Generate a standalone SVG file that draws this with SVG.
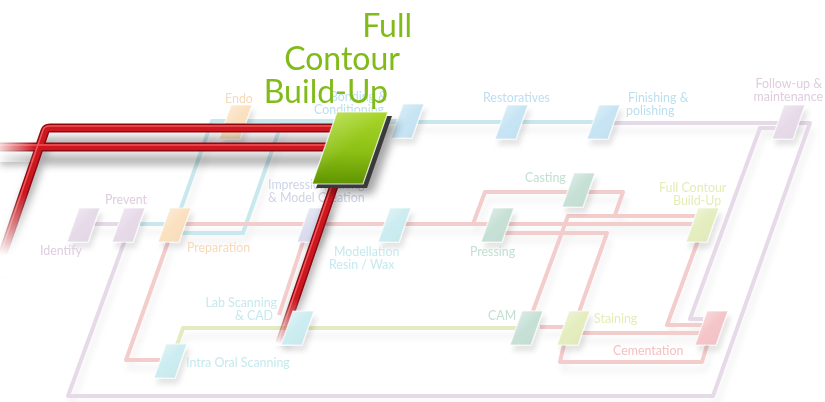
<svg xmlns="http://www.w3.org/2000/svg" width="825" height="402" viewBox="0 0 825 402">
<defs>
<style>
text{font-family:Lato,"Noto Sans","DejaVu Sans",sans-serif}
.lb{font-size:12.4px}
.t-pu{fill:#e0cde0}.t-or{fill:#f7d9b8}.t-bl{fill:#bcdff0}.t-lv{fill:#cfd3e8}.t-tq{fill:#c4e9ee}.t-gr{fill:#c2e0d2}.t-yg{fill:#e3edb6}.t-pk{fill:#f5c0c0}
.pu{fill:#e6dae9}.or{fill:#fae0be}.bl{fill:#c6e4f4}.lv{fill:#d9dcee}.tq{fill:#cbecf0}.gr{fill:#c6e0d6}.yg{fill:#e3edbd}.pk{fill:#f4c4c8}
.st{stroke:#ffffff;stroke-opacity:.7;stroke-width:1.2}
.ln{fill:none;stroke-width:4;stroke-linejoin:round}
.l-pu{stroke:#e6dae8}.l-bl{stroke:#c9e8ed}.l-pk{stroke:#f3cccc}.l-gn{stroke:#e2ebc2}
.title{font-size:32px;fill:#80bb1a;text-anchor:end}
.rd{fill:none;stroke-linecap:butt;stroke-linejoin:round}
</style>
<path id="st" d="M12,0 H33 L21,34 H0 Z"/>
<linearGradient id="sheen" x1="0" y1="0" x2="1" y2="1">
<stop offset="0" stop-color="#fff" stop-opacity=".55"/>
<stop offset=".5" stop-color="#fff" stop-opacity="0"/>
<stop offset="1" stop-color="#000" stop-opacity=".06"/>
</linearGradient>
<filter id="sh" x="-30%" y="-30%" width="180%" height="180%">
<feDropShadow dx="3" dy="6" stdDeviation="2.5" flood-color="#000" flood-opacity=".1"/>
</filter>
<filter id="lsh" x="-10%" y="-10%" width="120%" height="130%">
<feDropShadow dx="3" dy="8" stdDeviation="3" flood-color="#000" flood-opacity=".06"/>
</filter>
<filter id="blur" x="-20%" y="-20%" width="140%" height="140%">
<feGaussianBlur stdDeviation="4"/>
</filter>
<linearGradient id="fadeL" x1="0" y1="0" x2="1" y2="0">
<stop offset="0" stop-color="#333"/><stop offset="1" stop-color="#fff"/>
</linearGradient>
<linearGradient id="fadeD" x1="0" y1="0" x2="0" y2="1">
<stop offset="0" stop-color="#fff"/><stop offset="1" stop-color="#000"/>
</linearGradient>
<linearGradient id="fadeD2" x1="0" y1="0" x2="0" y2="1">
<stop offset="0" stop-color="#fff"/><stop offset=".75" stop-color="#000"/><stop offset="1" stop-color="#000"/>
</linearGradient>
<mask id="fade" maskUnits="userSpaceOnUse" x="0" y="0" width="825" height="402">
<rect width="825" height="402" fill="#fff"/>
<rect x="0" y="134" width="36" height="28" fill="url(#fadeL)"/>
<rect x="0" y="192" width="60" height="85" fill="url(#fadeD2)"/>
<rect x="255" y="298" width="80" height="48" fill="url(#fadeD)"/>
</mask>
<linearGradient id="gbox" x1="0" y1="0" x2="0" y2="1">
<stop offset="0" stop-color="#a9d62a"/><stop offset=".55" stop-color="#8cc014"/><stop offset="1" stop-color="#5f9400"/>
</linearGradient>
</defs>
<rect width="825" height="402" fill="#fff"/>

<g id="connectors" filter="url(#lsh)">
<path class="ln l-pu" d="M83,224 H128"/>
<path class="ln l-pu" d="M605,123 H810 L713,396 H68 L125,240"/>
<path class="ln l-pu" d="M785,128 H760 L690,319 H703"/>
<path class="ln l-bl" d="M140,224 H170"/>
<path class="ln l-bl" d="M175,225 L212,121 H405"/>
<path class="ln l-bl" d="M180,233 H243 L282,122 H405"/>
<path class="ln l-bl" d="M405,122 H600"/>
<path class="ln l-pk" d="M175,224 H700"/>
<path class="ln l-pk" d="M473,224 L485,192 H623 L615,215"/>
<path class="ln l-pk" d="M533,311 L568,216 H700"/>
<path class="ln l-pk" d="M505,233 H607 L578,315"/>
<path class="ln l-pk" d="M540,327 H565"/>
<path class="ln l-pk" d="M575,333 H705"/>
<path class="ln l-pk" d="M565,340 L560,362 H702 L708,342"/>
<path class="ln l-pk" d="M700,235 L667,325 H705"/>
<path class="ln l-pk" d="M168,242 L126,360 H160"/>
<path class="ln l-pk" d="M303,242 L279,315"/>
<path class="ln l-gn" d="M176,348 L183,328 H520"/>
</g>

<g filter="url(#sh)">
<g id="n-identify"><use href="#st" x="67" y="208" class="pu st"/><use href="#st" x="67" y="208" fill="url(#sheen)"/></g>
<g id="n-prevent"><use href="#st" x="112" y="208" class="pu st"/><use href="#st" x="112" y="208" fill="url(#sheen)"/></g>
<g id="n-preparation"><use href="#st" x="158" y="208" class="or st"/><use href="#st" x="158" y="208" fill="url(#sheen)"/></g>
<g id="n-endo"><use href="#st" x="219" y="105" class="or st"/><use href="#st" x="219" y="105" fill="url(#sheen)"/></g>
<g id="n-bonding"><use href="#st" x="391" y="104" class="bl st"/><use href="#st" x="391" y="104" fill="url(#sheen)"/></g>
<g id="n-restoratives"><use href="#st" x="495" y="105" class="bl st"/><use href="#st" x="495" y="105" fill="url(#sheen)"/></g>
<g id="n-finishing"><use href="#st" x="587" y="105" class="bl st"/><use href="#st" x="587" y="105" fill="url(#sheen)"/></g>
<g id="n-followup"><use href="#st" x="772" y="105" class="pu st"/><use href="#st" x="772" y="105" fill="url(#sheen)"/></g>
<g id="n-impression"><use href="#st" x="297" y="208" class="lv st"/><use href="#st" x="297" y="208" fill="url(#sheen)"/></g>
<g id="n-modellation"><use href="#st" x="378" y="208" class="tq st"/><use href="#st" x="378" y="208" fill="url(#sheen)"/></g>
<g id="n-pressing"><use href="#st" x="481" y="208" class="gr st"/><use href="#st" x="481" y="208" fill="url(#sheen)"/></g>
<g id="n-casting"><use href="#st" x="562" y="173" class="gr st"/><use href="#st" x="562" y="173" fill="url(#sheen)"/></g>
<g id="n-fullcontour"><use href="#st" x="686" y="208" class="yg st"/><use href="#st" x="686" y="208" fill="url(#sheen)"/></g>
<g id="n-cam"><use href="#st" x="510" y="311" class="gr st"/><use href="#st" x="510" y="311" fill="url(#sheen)"/></g>
<g id="n-staining"><use href="#st" x="557" y="311" class="yg st"/><use href="#st" x="557" y="311" fill="url(#sheen)"/></g>
<g id="n-cementation"><use href="#st" x="695" y="311" class="pk st"/><use href="#st" x="695" y="311" fill="url(#sheen)"/></g>
<g id="n-intraoral"><use href="#st" x="154" y="344" class="tq st"/><use href="#st" x="154" y="344" fill="url(#sheen)"/></g>
</g>

<g id="labels" class="lb">
<text x="40" y="255" class="t-pu">Identify</text>
<text x="105" y="204" class="t-pu">Prevent</text>
<text x="187" y="252" class="t-or">Preparation</text>
<text x="225" y="103" class="t-or">Endo</text>
<text x="387" y="101" class="t-bl" text-anchor="end">Bonding &amp;</text>
<text x="384" y="114" class="t-bl" text-anchor="end">Conditioning</text>
<text x="483" y="102" class="t-bl">Restoratives</text>
<text x="628" y="102" class="t-bl">Finishing &amp;</text>
<text x="626" y="115" class="t-bl">polishing</text>
<text x="822" y="88" class="t-pu" text-anchor="end">Follow-up &amp;</text>
<text x="823" y="101" class="t-pu" text-anchor="end">maintenance</text>
<text x="268" y="189" class="t-lv">Impression Taking</text>
<text x="268" y="202" class="t-lv">&amp; Model Creation</text>
<text x="334" y="256" class="t-tq">Modellation</text>
<text x="329" y="269" class="t-tq">Resin / Wax</text>
<text x="470" y="256" class="t-gr">Pressing</text>
<text x="525" y="182" class="t-gr">Casting</text>
<text x="659" y="192" class="t-yg">Full Contour</text>
<text x="673" y="205" class="t-yg">Build-Up</text>
<text x="488" y="320" class="t-gr">CAM</text>
<text x="594" y="323" class="t-yg">Staining</text>
<text x="613" y="355" class="t-pk">Cementation</text>
<text x="186" y="367" class="t-tq">Intra Oral Scanning</text>
</g>

<g id="route-shadow" filter="url(#blur)" opacity=".35" mask="url(#fade)">
<path d="M0,160 H330 M0,270 L46,142 H340 M335,195 L283,345" fill="none" stroke="#000" stroke-width="9"/>
</g>
<g id="route" mask="url(#fade)">
<path class="rd" d="M0,147 H332 M0,262 L45,131 Q46,128 50,128 H342 M336,180 L280,343" stroke="#8f0810" stroke-width="9"/>
<path class="rd" d="M0,147 H332 M0,262 L45,131 Q46,128 50,128 H342 M336,180 L280,343" stroke="#cc1620" stroke-width="6"/>
<path class="rd" d="M0,145 H332 M-2,261 L43,130 Q44,126 50,126 H342 M334,179 L278,342" stroke="#ef5656" stroke-width="1.6"/>
</g>

<g id="n-fullcontour-main">
<path d="M347,122 H398 L373,194 H322 Z" fill="#000" opacity=".35" filter="url(#blur)"/>
<path d="M341,116 H392 L367,188 H316 Z" fill="#3a3a3a"/>
<path d="M337,112 H388 L363,184 H312 Z" fill="url(#gbox)" stroke="#fff" stroke-width="1.2" stroke-opacity=".8"/>
<path d="M337,112 H388 L363,184 H312 Z" fill="url(#sheen)" opacity=".6"/>
<text x="412" y="37" class="title">Full</text>
<text x="400" y="70" class="title">Contour</text>
<text x="388" y="103" class="title">Build-Up</text>
</g>

<g id="n-labscanning">
<g filter="url(#sh)"><use href="#st" x="281" y="311" class="tq st"/><use href="#st" x="281" y="311" fill="url(#sheen)"/></g>
<text x="277" y="307" class="lb t-tq" text-anchor="end">Lab Scanning</text>
<text x="273" y="320" class="lb t-tq" text-anchor="end">&amp; CAD</text>
</g>
</svg>
